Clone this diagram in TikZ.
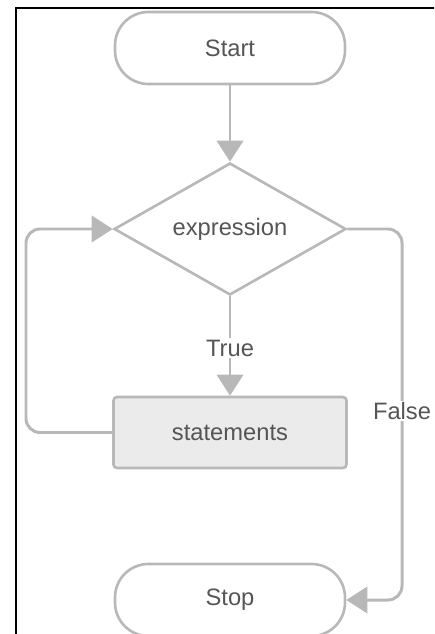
\documentclass[tikz,border=0pt]{standalone}
\usepackage{fontspec}
\setmainfont{Liberation Sans}
\usetikzlibrary{shapes.geometric,arrows.meta}
\definecolor{lineg}{HTML}{B8B8B8}
\definecolor{textg}{HTML}{555555}
\definecolor{boxg}{HTML}{EBEBEB}
\tikzset{
  txt/.style={text=textg,font=\fontsize{13.5}{15}\selectfont},
  term/.style={txt,draw=lineg,line width=1.5pt,rectangle,rounded corners=19pt,
    minimum width=4.6cm,minimum height=1.44cm,inner sep=0pt},
  decide/.style={txt,draw=lineg,line width=1.5pt,diamond,aspect=1.76,
    minimum width=4.64cm,minimum height=2.64cm,inner sep=0pt},
  procbox/.style={txt,draw=lineg,fill=boxg,line width=1.5pt,rectangle,rounded corners=2pt,
    minimum width=4.66cm,minimum height=1.42cm,inner sep=0pt},
  conn/.style={draw=lineg,line width=1.7pt,-{Triangle[width=15pt,length=12pt]}},
  lab/.style={txt,fill=white,inner sep=1pt},
}
\begin{document}
\begin{tikzpicture}[x=0.02cm,y=-0.02cm]
\useasboundingbox (0,0) rectangle (434,634);
\clip (0,0) rectangle (434,634);
\draw[black,line width=1.3pt] (16,634) -- (16,8) -- (440,8);
\node[term] (start) at (230,48) {Start};
\node[decide] (expr) at (230,229) {expression};
\node[procbox] (stmt) at (230,432.5) {statements};
\node[term] (stop) at (230,600) {Stop};
\coordinate (lb) at (26,432.5);
\coordinate (lt) at (26,229);
\coordinate (rt) at (402,229);
\coordinate (rb) at (402,600);
\draw[conn] (start.south) -- (expr.north);
\draw[conn] (expr.south) -- node[lab,pos=0.52] (truel) {True} (stmt.north);
\draw[conn,rounded corners=8pt] (stmt.west) -- (lb) -- (lt) -- (expr.west);
\draw[conn,rounded corners=8pt] (expr.east) -- (rt) -- (rb) -- (stop.east);
\node[lab] (falsel) at (402,411) {False};
\end{tikzpicture}
\end{document}
